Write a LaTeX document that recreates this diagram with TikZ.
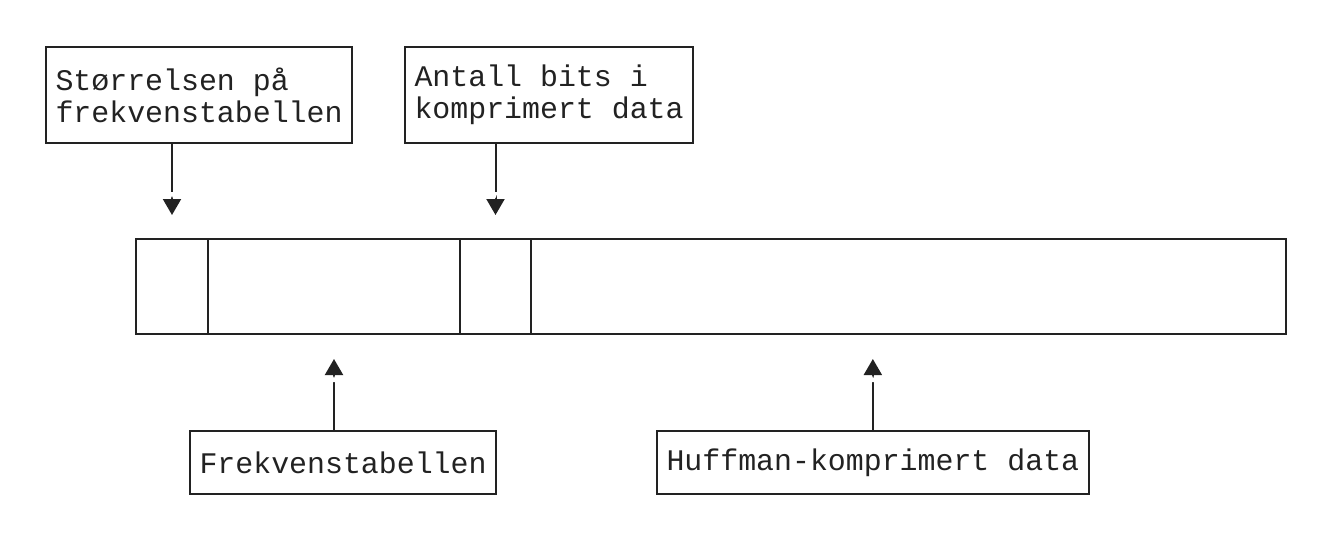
\documentclass[tikz,border=0pt]{standalone}
\usepackage{fontspec}
\setmonofont{Liberation Mono}
\usetikzlibrary{arrows.meta,positioning}
\definecolor{ink}{HTML}{222222}

\begin{document}
\begin{tikzpicture}[x=1pt,y=-1pt,
  every node/.style={line width=2pt,draw=ink,text=ink,font=\ttfamily\fontsize{29.9}{32}\selectfont},
  box/.style={align=left,inner xsep=9.5pt,inner ysep=0pt,outer sep=0pt},
  cell/.style={minimum height=95pt,outer sep=0pt,inner sep=0pt},
  pil/.style={line width=2pt,draw=ink,
    -{Triangle[width=4pt,length=7pt,color=white] Triangle[width=18pt,length=16pt,color=ink]}}]
\useasboundingbox (0,0) rectangle (1332,543);
\node[cell,minimum width=72pt,anchor=north west] (c1) at (136,239) {};
\node[cell,minimum width=252pt,right=0pt of c1] (c2) {};
\node[cell,minimum width=71pt,right=0pt of c2] (c3) {};
\node[cell,minimum width=755pt,right=0pt of c3] (c4) {};
\node[box,minimum height=96pt,anchor=north west] (stor) at (46,47) {Størrelsen på\\frekvenstabellen};
\node[box,minimum height=96pt,anchor=north west] (bits) at (405,47) {Antall bits i\\komprimert data};
\node[box,minimum height=63pt,anchor=north west] (frek) at (190,431) {Frekvenstabellen};
\node[box,minimum height=63pt,anchor=north west] (huff) at (657,431) {Huffman-komprimert data};
\draw[pil] (stor.south -| c1) -- ([yshift=24pt]c1.north);
\draw[pil] (bits.south -| c3) -- ([yshift=24pt]c3.north);
\draw[pil] (frek.north -| c2) -- ([yshift=-25pt]c2.south);
\draw[pil] (huff.north) -- ([yshift=-25pt]c4.south -| huff.north);
\end{tikzpicture}
\end{document}
